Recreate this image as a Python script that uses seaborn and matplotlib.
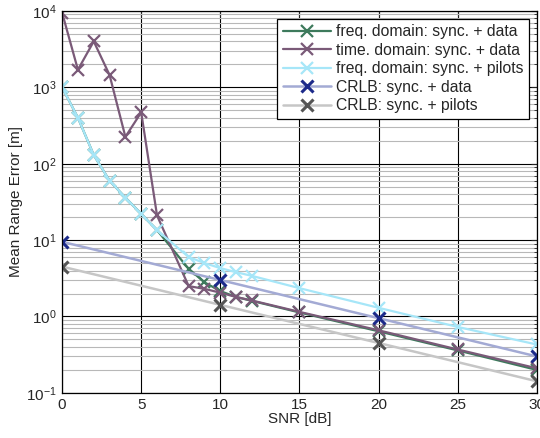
import numpy as np
import pandas as pd
import seaborn as sns
import matplotlib.pyplot as plt
from matplotlib.ticker import LogLocator, NullFormatter

# SNR grid and mean range errors
snr_sim = [0, 1, 2, 3, 4, 5, 6, 8, 9, 10, 11, 12, 15, 20, 25, 30]
freq_data = [1000, 400, 130, 60, 36, 22, 13.5, 4.2, 2.8, 2.15, 1.8, 1.6, 1.13, 0.64, 0.36, 0.2]
time_data = [9500, 1700, 4000, 1450, 225, 470, 21, 2.5, 2.3, 2.05, 1.8, 1.62, 1.15, 0.66, 0.37, 0.21]
freq_pilots = [1000, 400, 130, 60, 36, 22, 13.5, 6.0, 5.0, 4.3, 3.8, 3.4, 2.35, 1.3, 0.73, 0.43]

snr_crlb = [0, 10, 20, 30]
crlb_data = [9.5, 3.0, 0.95, 0.3]
crlb_pilots = [4.5, 1.42, 0.45, 0.142]

labels = ["freq. domain: sync. + data", "time. domain: sync. + data",
          "freq. domain: sync. + pilots", "CRLB: sync. + data", "CRLB: sync. + pilots"]

sns.set_style("white")
plt.rcParams['font.family'] = ['Liberation Sans', 'DejaVu Sans']

fig = plt.figure(figsize=(5.4, 4.38), dpi=100)
ax = fig.add_axes([0.115, 0.103, 0.879, 0.872])

sns.lineplot(x=snr_sim, y=freq_data, ax=ax, color='#3d7a5c', lw=1.6,
             marker='x', markersize=8, markeredgewidth=1.6, markeredgecolor='#3d7a5c', label=labels[0])
sns.lineplot(x=snr_sim, y=time_data, ax=ax, color='#7a5a78', lw=1.6,
             marker='x', markersize=8, markeredgewidth=1.6, markeredgecolor='#7a5a78', label=labels[1])
sns.lineplot(x=snr_sim, y=freq_pilots, ax=ax, color='#a6e6f8', lw=1.6,
             marker='x', markersize=8, markeredgewidth=1.6, markeredgecolor='#a6e6f8', label=labels[2])
sns.lineplot(x=snr_crlb, y=crlb_data, ax=ax, color='#a3aad4', lw=1.8,
             marker='x', markersize=8, markeredgewidth=2.2, markeredgecolor='#1c2a8a', label=labels[3])
sns.lineplot(x=snr_crlb, y=crlb_pilots, ax=ax, color='#c6c6c6', lw=1.8,
             marker='x', markersize=8, markeredgewidth=2.2, markeredgecolor='#555555', label=labels[4])

ax.set_yscale('log')
ax.set_xlim(0, 30)
ax.set_ylim(0.1, 10000)
ax.set_xticks([0, 5, 10, 15, 20, 25, 30])
ax.yaxis.set_major_locator(LogLocator(base=10, numticks=10))
ax.yaxis.set_minor_locator(LogLocator(base=10, subs=np.arange(2, 10), numticks=10))
ax.yaxis.set_minor_formatter(NullFormatter())

ax.grid(which='major', axis='both', color='black', lw=0.8)
ax.grid(which='minor', axis='y', color='#b8b8b8', lw=0.8)
ax.tick_params(which='both', direction='in', top=True, right=True, labelsize=11, pad=4)
ax.tick_params(which='major', length=4)
ax.tick_params(which='minor', length=2)
for s in ax.spines.values():
    s.set_color('black')
    s.set_linewidth(0.9)

ax.set_xlabel('SNR [dB]', fontsize=11, labelpad=0)
ax.set_ylabel('Mean Range Error [m]', fontsize=11, labelpad=2)

leg = ax.legend(loc='upper right', fontsize=11.3, frameon=True, fancybox=False,
                edgecolor='black', framealpha=1, borderpad=0.35, labelspacing=0.22,
                handlelength=3.1, handletextpad=0.3, borderaxespad=0.5)
leg.get_frame().set_linewidth(0.9)

fig.savefig('out.png', dpi=100)
